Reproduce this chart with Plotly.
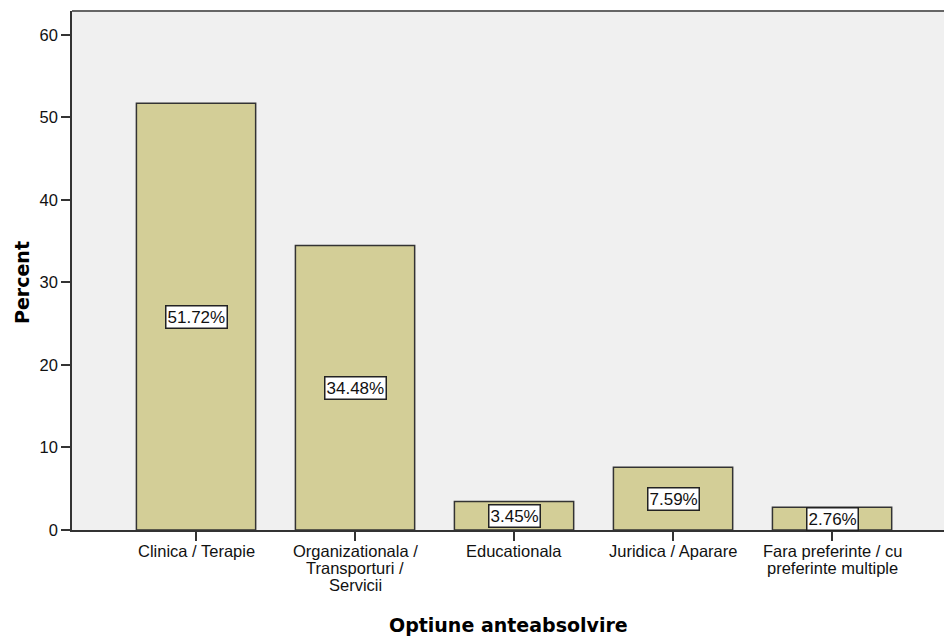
import plotly.graph_objects as go

categories = [
    "Clinica / Terapie",
    "Organizationala /<br>Transporturi /<br>Servicii",
    "Educationala",
    "Juridica / Aparare",
    "Fara preferinte / cu<br>preferinte multiple",
]
percent = [51.72, 34.48, 3.45, 7.59, 2.76]
y_ticks = [0, 10, 20, 30, 40, 50, 60]

FONT = "Liberation Sans, Arial, sans-serif"
TITLE_FONT = "DejaVu Sans, Verdana, sans-serif"
BAR_COLOR = "#D3CE97"
LINE = "#333333"

x_idx = list(range(len(categories)))

fig = go.Figure()
fig.add_trace(
    go.Bar(
        x=x_idx,
        y=percent,
        width=0.75,
        marker=dict(color=BAR_COLOR, line=dict(color=LINE, width=1.5)),
        showlegend=False,
        hoverinfo="skip",
    )
)

# value labels in white boxes at the bar middle
for i, v in zip(x_idx, percent):
    fig.add_annotation(
        x=i,
        y=v / 2,
        text=f"{v:.2f}%",
        showarrow=False,
        font=dict(family=FONT, size=17, color="#111111"),
        bgcolor="white",
        bordercolor="#222222",
        borderwidth=1.5,
        borderpad=1,
    )

# category labels, one annotation per line to keep tight line spacing
for i, cat in zip(x_idx, categories):
    for k, part in enumerate(cat.split("<br>")):
        fig.add_annotation(
            x=i, xref="x",
            y=0, yref="paper",
            yanchor="middle",
            yshift=-(21 + 17 * k),
            text=part,
            showarrow=False,
            font=dict(family=FONT, size=16.5, color="#111111"),
        )

# axis titles
fig.add_annotation(
    x=0.5, xref="paper", y=0, yref="paper",
    yanchor="middle", yshift=-95,
    text="<b>Optiune anteabsolvire</b>",
    showarrow=False,
    font=dict(family=TITLE_FONT, size=19, color="black"),
)
fig.add_annotation(
    x=0, xref="paper", y=0.476, yref="paper",
    xanchor="center", xshift=-50,
    textangle=-90,
    text="<b>Percent</b>",
    showarrow=False,
    font=dict(family=TITLE_FONT, size=19, color="black"),
)

# top frame line
fig.add_shape(
    type="line", xref="paper", yref="paper",
    x0=0, x1=1, y0=1, y1=1,
    line=dict(color="#666666", width=2),
)

fig.update_layout(
    width=944,
    height=637,
    margin=dict(l=72, r=0, t=11, b=107),
    paper_bgcolor="white",
    plot_bgcolor="#F0F0F0",
    font=dict(family=FONT, size=16.5, color="#111111"),
)
fig.update_xaxes(
    range=[-0.780, 4.704],
    tickmode="array",
    tickvals=x_idx,
    showticklabels=False,
    ticks="outside",
    ticklen=9,
    tickwidth=1.5,
    tickcolor=LINE,
    showline=True,
    linecolor=LINE,
    linewidth=1.5,
    showgrid=False,
    zeroline=False,
)
fig.update_yaxes(
    range=[0, 62.9],
    tickvals=y_ticks,
    ticks="outside",
    ticklen=9,
    tickwidth=1.5,
    tickcolor=LINE,
    showline=True,
    linecolor=LINE,
    linewidth=1.5,
    showgrid=False,
    zeroline=False,
    tickfont=dict(family=FONT, size=16.5, color="#111111"),
)

# drop the default 8px page margin so the figure fills the window exactly
fig.write_html(
    "out.html",
    config={"displayModeBar": False},
    post_script="document.body.style.margin='0';document.body.style.overflow='hidden';",
)
